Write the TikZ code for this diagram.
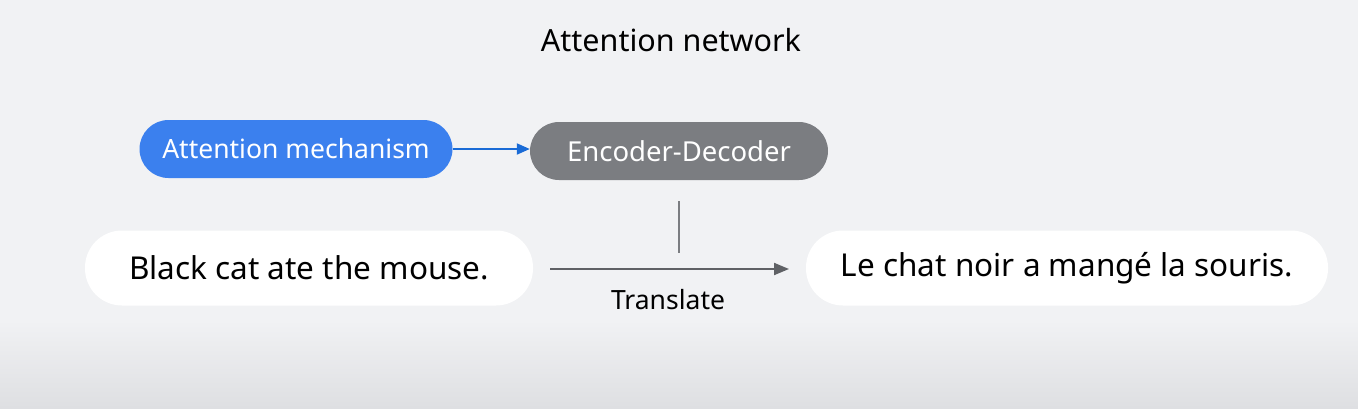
\documentclass[tikz,border=0pt]{standalone}
\usepackage{fontspec}
\setmainfont{Noto Sans}
\usetikzlibrary{arrows.meta}
\definecolor{bgcol}{HTML}{F1F2F4}
\definecolor{bgdark}{HTML}{DEDFE2}
\definecolor{attblue}{HTML}{3B80EE}
\definecolor{arrblue}{HTML}{1A6BD6}
\definecolor{encgray}{HTML}{7B7D81}
\definecolor{linegray}{HTML}{5F6165}
\begin{document}
\begin{tikzpicture}[x=1pt,y=-1pt,
  pill/.style={rounded corners=29pt, minimum height=58pt, inner sep=0pt,
    text=white},
  sentence/.style={rounded corners=37pt, minimum height=75pt, inner sep=0pt,
    fill=white, font=\fontsize{31.5}{36}\selectfont}]
  % background
  \fill[bgcol] (0,0) rectangle (1358,408);
  \shade[top color=bgcol, bottom color=bgdark] (0,320) rectangle (1358,408);
  \useasboundingbox (0,0) rectangle (1358,408);
  \node[font=\fontsize{30.5}{34}\selectfont] (title) at (671,40) {Attention network};
  \node[pill, fill=attblue, minimum width=313pt, font=\fontsize{26.5}{30}\selectfont] (att) at (296,149) {Attention mechanism};
  \node[pill, fill=encgray, minimum width=298pt, font=\fontsize{27.5}{30}\selectfont] (enc) at (679,151) {Encoder-Decoder};
  \node[sentence] (src) at (309,268) [minimum width=448pt] {Black cat ate the mouse.};
  \node[sentence] (tgt) at (1067,268) [minimum width=522pt] {Le chat noir a mangé la souris.};
  \node[font=\fontsize{26.5}{30}\selectfont] (trans) at (668,300) {Translate};
  \coordinate (vtop) at (679,201);
  \coordinate (vbot) at (679,253);
  \coordinate (tstart) at (550,269);
  \coordinate (tend) at (789,269);
  \draw[arrblue, line width=2pt, -{Triangle[length=13pt,width=11pt]}] (att.east) -- (enc.west |- att.east);
  \draw[encgray, line width=1.5pt] (vtop) -- (vbot);
  \draw[linegray, line width=2pt, -{Triangle[length=15pt,width=12pt]}] (tstart) -- (tend);
\end{tikzpicture}
\end{document}
